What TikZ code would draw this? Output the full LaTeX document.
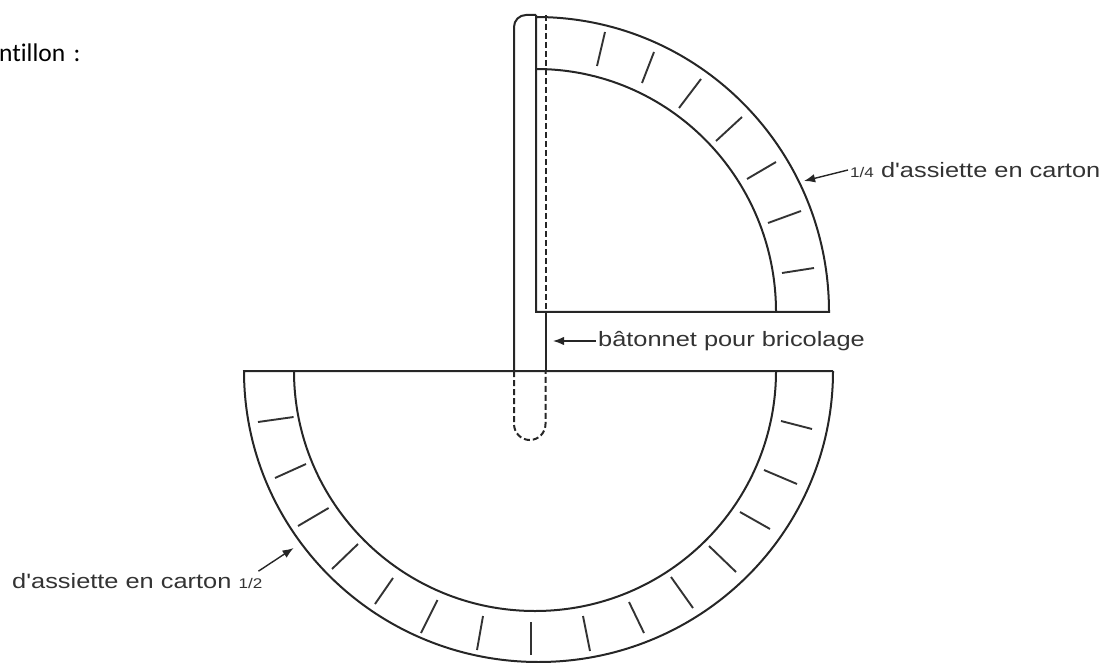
\documentclass[tikz,border=0pt]{standalone}
\usepackage{fontspec}
\usepackage{xcolor}
\setmainfont{Liberation Sans}
\newfontfamily\headfont[Ligatures=NoCommon]{Carlito}
\newfontfamily\labelfont[FakeStretch=1.22]{Liberation Sans}
\usetikzlibrary{arrows.meta,positioning,calc}
\newcommand{\smallfrac}[1]{{\fontsize{14}{14}\selectfont #1}}

\begin{document}
\begin{tikzpicture}[x=1pt,y=1pt,
 outline/.style={line width=2pt,black!85},
 hidden/.style={outline,dash pattern=on 6pt off 3pt},
 notch/.style={line width=1.9pt,black!80},
 lab/.style={font=\labelfont\fontsize{20.8}{21}\selectfont,text=black!80,inner sep=2pt},
 arr/.style={-{Latex[length=3.9mm,width=3mm]},line width=1.4pt,black!85}]
 \useasboundingbox (0,0) rectangle (1107,662);
 \node[font=\headfont\fontsize{25.5}{26}\selectfont,anchor=west,inner sep=0pt] (head) at (-1,609) {ntillon\,\,:};
 \node[lab,anchor=west] (quarter) at (848,492) {\smallfrac{1/4} d'assiette en carton};
 \node[lab,anchor=west] (stick) at (596,321) {bâtonnet pour bricolage};
 \node[lab,anchor=west] (half) at (10,81) {d'assiette en carton \smallfrac{1/2}};
 \coordinate (quartertip) at (804,481);
 \coordinate (sticktip) at (553,321);
 \coordinate (halftip) at (293.6,114);
 % quarter plate
 \draw[outline] (536,647) -- (536,350) -- (829,350) arc[start angle=0,end angle=90,x radius=293,y radius=295];
 \draw[outline] (776,350) arc[start angle=0,end angle=90,x radius=240,y radius=243];
 \foreach \xa/\ya/\xb/\yb in {605/630/597/596,654/610/642/579,701/583/679/554,742/545/716/521,776/500/747/483,801/451/768/439,814/394/782/389}
  \draw[notch] (\xa,\ya) -- (\xb,\yb);
 % half plate
 \draw[outline] (833,291) -- (244,291) arc[start angle=180,end angle=360,x radius=294.5,y radius=291];
 \draw[outline] (294,291) arc[start angle=180,end angle=360,x radius=241,y radius=240];
 \foreach \xa/\ya/\xb/\yb in {258/240/293.6/245,275/184/306/198,298/136/328.6/154,332/93/358/118,375/58/393/84,421/29/437.5/62,477/12/483/46,531/7/531/40,781/241/812/233,764/192/797/178,740/150/770/133,709/116/736/90,671/85/693/54,629/60/644/29,583/46/590/11}
  \draw[notch] (\xa,\ya) -- (\xb,\yb);
 % stick
 \draw[outline] (514,291) -- (514,635) arc[start angle=180,end angle=90,radius=12] -- (536,647);
 \draw[outline] (545.5,350) -- (545.5,291);
 \draw[hidden] (545.5,647) -- (545.5,350);
 \draw[hidden] (514,291) -- (514,238) arc[start angle=180,end angle=360,x radius=15.75,y radius=16] -- (545.5,291);
 % arrows
 \draw[arr] (quarter.west) -- (quartertip);
 \draw[arr] (stick.west) -- (sticktip);
 \draw[arr] ([xshift=-6pt]half.north east) -- (halftip);
\end{tikzpicture}
\end{document}
